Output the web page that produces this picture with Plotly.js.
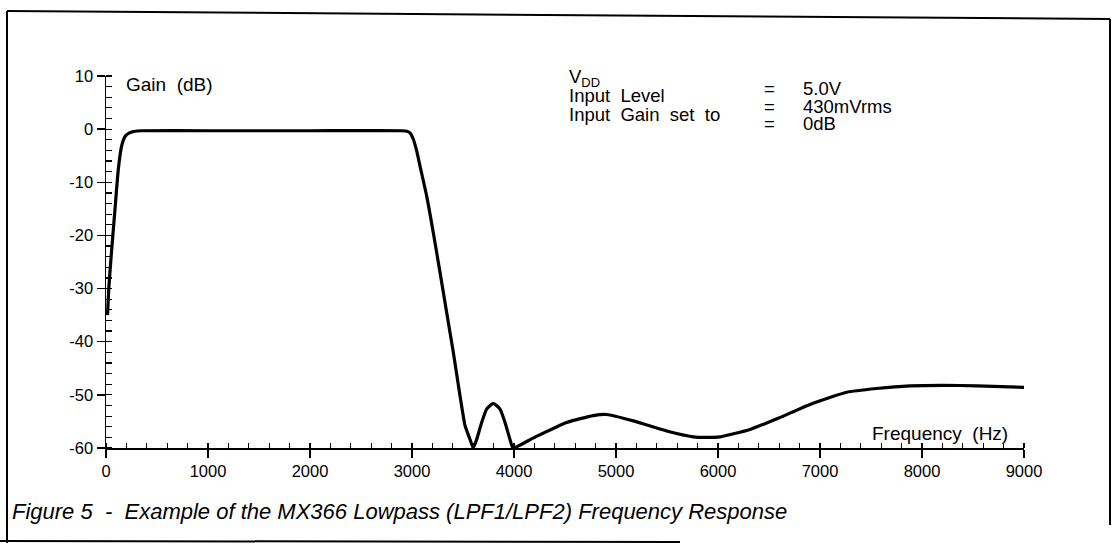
<!DOCTYPE html>
<html>
<head>
<meta charset="utf-8">
<script src="https://cdn.plot.ly/plotly-3.0.1.min.js"></script>
<style>
  html, body { margin: 0; padding: 0; background: #fff; }
  #chart { width: 1116px; height: 552px; }
</style>
</head>
<body>
<div id="chart"></div>
<script>
// ---- Data ----
const frequencyHz = [15, 29, 56, 88, 121, 154, 190, 230, 280, 350, 1000, 2000, 2900, 2950, 2980, 3013, 3046, 3078, 3144, 3209, 3275, 3340, 3405, 3471, 3520, 3569, 3600, 3634, 3683, 3732, 3797, 3863, 3912, 3961, 3990, 4190, 4516, 4777, 4909, 5170, 5497, 5758, 5900, 6020, 6314, 6590, 6902, 7262, 7556, 7882, 8209, 8536, 9000];
const gainDb = [-35, -29.5, -22.6, -15.1, -7.5, -3.1, -1.3, -0.7, -0.4, -0.3, -0.3, -0.3, -0.3, -0.4, -0.7, -1.9, -4.1, -6.9, -12.6, -19.5, -27, -34.5, -42, -50.2, -55.8, -58.4, -60, -58.4, -55.2, -52.7, -51.6, -52.7, -55.2, -58.4, -60, -58.1, -55.2, -53.9, -53.7, -54.9, -56.8, -57.9, -58, -57.9, -56.5, -54.4, -51.8, -49.5, -48.8, -48.3, -48.2, -48.3, -48.6];

const xTickVals = [0, 1000, 2000, 3000, 4000, 5000, 6000, 7000, 8000, 9000];
const xTickText = ["0", "1000", "2000", "3000", "4000", "5000", "6000", "7000", "8000", "9000"];
const yTickVals = [10, 0, -10, -20, -30, -40, -50, -60];
const yTickText = ["10", "0", "-10", "-20", "-30", "-40", "-50", "-60"];

const conditionLabels = ["V<sub>DD</sub>", "Input\u00a0\u00a0Level", "Input\u00a0\u00a0Gain\u00a0\u00a0set\u00a0\u00a0to"];
const conditionValues = ["5.0V", "430mVrms", "0dB"];

const yAxisLabel = "Gain\u00a0\u00a0(dB)";
const xAxisLabel = "Frequency\u00a0\u00a0(Hz)";
const caption = "Figure 5\u00a0\u00a0-\u00a0\u00a0Example of the MX366 Lowpass (LPF1/LPF2) Frequency Response";

// ---- Layout helpers (pixel -> paper) ----
const W = 1116, H = 552;
const M = { l: 106, r: 92, t: 76, b: 104 };
const PW = W - M.l - M.r, PH = H - M.t - M.b;
const px = x => (x - M.l) / PW;
const py = y => (H - M.b - y) / PH;

const FONT = "'Liberation Sans', Arial, Helvetica, sans-serif";

const trace = {
  x: frequencyHz,
  y: gainDb,
  type: 'scatter',
  mode: 'lines',
  line: { color: '#000', width: 3.2, shape: 'spline', smoothing: 0.5 },
  hoverinfo: 'skip'
};

const annotations = [];
function addText(text, x, y, size, opts) {
  annotations.push(Object.assign({
    text: text, xref: 'paper', yref: 'paper', x: px(x), y: py(y),
    xanchor: 'left', yanchor: 'middle', showarrow: false,
    font: { family: FONT, size: size, color: '#000' }
  }, opts || {}));
}
addText(yAxisLabel, 124, 84, 19);
addText(xAxisLabel, 870, 433, 19);
const rowsL = [78, 96, 114];
const rowsR = [89, 106, 123];
conditionLabels.forEach((t, i) => addText(t, 567, rowsL[i], 18.5));
conditionValues.forEach((t, i) => {
  addText("=", 762, rowsR[i], 18.5);
  addText(t, 801, rowsR[i], 18.5);
});
addText(caption, 10, 511, 22, { font: { family: FONT, size: 22, color: '#000', style: 'italic' } });

const frameLine = { color: '#000', width: 2 };
const shapes = [
  { type: 'line', xref: 'paper', yref: 'paper', x0: px(7), y0: py(11), x1: px(1110), y1: py(19), line: frameLine },
  { type: 'line', xref: 'paper', yref: 'paper', x0: px(7), y0: py(11), x1: px(7), y1: py(543), line: frameLine },
  { type: 'line', xref: 'paper', yref: 'paper', x0: px(1110), y0: py(19), x1: px(1110), y1: py(525), line: frameLine },
  { type: 'line', xref: 'paper', yref: 'paper', x0: px(0), y0: py(541), x1: px(680), y1: py(542), line: frameLine }
];

const layout = {
  width: W, height: H,
  margin: { l: M.l, r: M.r, t: M.t, b: M.b, pad: 0 },
  paper_bgcolor: '#fff', plot_bgcolor: '#fff',
  showlegend: false,
  font: { family: FONT, color: '#000' },
  xaxis: {
    range: [0, 9000], showgrid: false, zeroline: false,
    showline: true, linecolor: '#000', linewidth: 1.5,
    tickmode: 'array', tickvals: xTickVals, ticktext: xTickText,
    ticks: 'outside', ticklen: 8, tickwidth: 1.5, tickcolor: '#000',
    tickfont: { family: FONT, size: 16.5, color: '#000' },
    minor: { dtick: 200, ticks: 'inside', ticklen: 5, tickwidth: 1.2, tickcolor: '#000', showgrid: false },
    fixedrange: true
  },
  yaxis: {
    range: [-60, 10], showgrid: false, zeroline: false,
    showline: true, linecolor: '#000', linewidth: 1.5,
    tickmode: 'array', tickvals: yTickVals, ticktext: yTickText,
    ticks: 'outside', ticklen: 8, tickwidth: 1.5, tickcolor: '#000',
    tickfont: { family: FONT, size: 16.5, color: '#000' },
    minor: { dtick: 2, ticks: 'inside', ticklen: 6, tickwidth: 1.2, tickcolor: '#000', showgrid: false },
    fixedrange: true
  },
  annotations: annotations,
  shapes: shapes
};

Plotly.newPlot('chart', [trace], layout, { displayModeBar: false, staticPlot: true });
</script>
</body>
</html>
